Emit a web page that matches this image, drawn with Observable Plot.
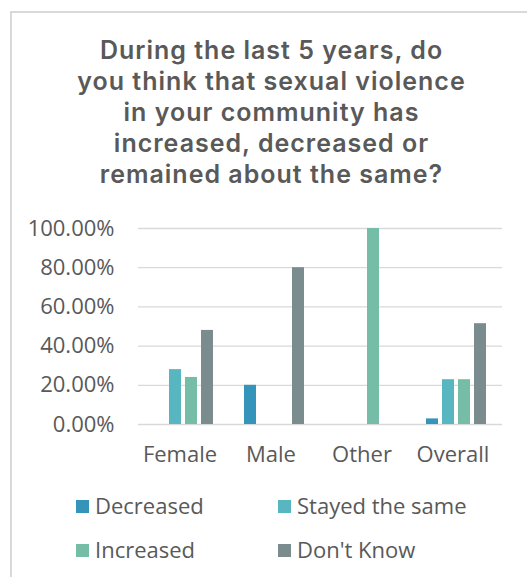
<!DOCTYPE html>
<html>
<head>
<meta charset="utf-8">
<script src="https://cdn.jsdelivr.net/npm/d3@7"></script>
<script src="https://cdn.jsdelivr.net/npm/@observablehq/plot@0.6"></script>
<style>
  html, body { margin: 0; padding: 0; background: #fff; }
  body { width: 527px; height: 577px; position: relative; overflow: hidden; font-family: "Open Sans", sans-serif; color: #595959; }
  #frame { position: absolute; left: 10px; top: 11px; width: 700px; height: 700px; border-left: 2px solid #d9d9d9; border-top: 2px solid #d9d9d9; }
  .tl { position: absolute; left: 11px; width: 521px; height: 31px; text-align: center; font-family: Inter, sans-serif; font-size: 25px; line-height: 31px; font-weight: 600; color: #595959; white-space: nowrap; letter-spacing: 1px; }
  #chart { position: absolute; left: 0; top: 200px; }
  .leg { position: absolute; font-size: 22px; color: #595959; white-space: nowrap; line-height: 30px; }
  .sw { position: absolute; width: 13px; height: 13px; }
</style>
</head>
<body>
<div id="frame"></div>
<div id="title"></div>
<div id="chart"></div>
<div id="legend"></div>
<script>
const titleLines = ["During the last 5 years, do", "you think that sexual violence", "in your community has", "increased, decreased or", "remained about the same?"];
const categories = ["Female", "Male", "Other", "Overall"];
const responses = ["Decreased", "Stayed the same", "Increased", "Don't Know"];
const colors = ["#3494BA", "#58B6C0", "#75BDA7", "#7A8C8E"];
const decreased = [0, 20, 0, 2.86];
const stayedSame = [28, 0, 0, 22.86];
const increased = [24, 0, 100, 22.86];
const dontKnow = [48, 80, 0, 51.43];
const yTicks = [0, 20, 40, 60, 80, 100];

const titleEl = document.getElementById("title");
titleLines.forEach((line, i) => {
  const d = document.createElement("div");
  d.className = "tl";
  d.style.top = (35 + i * 31) + "px";
  d.textContent = line;
  titleEl.appendChild(d);
});

const series = [decreased, stayedSame, increased, dontKnow];
const rows = [];
categories.forEach((c, i) => {
  responses.forEach((r, j) => {
    const v = series[j][i];
    if (v > 0) rows.push({category: c, response: r, value: v});
  });
});

const chart = Plot.plot({
  width: 527,
  height: 280,
  marginTop: 28,
  marginBottom: 56,
  marginLeft: 137,
  marginRight: 24,
  style: {fontFamily: "Open Sans, sans-serif", fontSize: "22px", color: "#595959", background: "transparent"},
  fx: {domain: categories, padding: 0, label: null},
  x: {domain: responses, paddingInner: 0.22, paddingOuter: 0.86, axis: null},
  y: {domain: [0, 100], label: null},
  color: {domain: responses, range: colors},
  marks: [
    Plot.ruleY(yTicks, {stroke: "#d9d9d9", strokeWidth: 1.3}),
    Plot.axisY(yTicks, {tickFormat: d => d.toFixed(2) + "%", tickSize: 0, tickPadding: 24, label: null}),
    Plot.axisFx({anchor: "bottom", tickSize: 0, tickPadding: 22, dx: -4, label: null}),
    Plot.barY(rows, {fx: "category", x: "response", y: "value", fill: "response"})
  ]
});
document.getElementById("chart").appendChild(chart);

// legend
const legend = document.getElementById("legend");
const legPos = [[76, 506], [278, 506], [76, 550], [278, 550]];
responses.forEach((r, i) => {
  const [x, y] = legPos[i];
  const sw = document.createElement("div");
  sw.className = "sw";
  sw.style.left = x + "px";
  sw.style.top = (y - 6.5) + "px";
  sw.style.background = colors[i];
  legend.appendChild(sw);
  const t = document.createElement("div");
  t.className = "leg";
  t.style.left = (x + 19) + "px";
  t.style.top = (y - 16) + "px";
  t.textContent = r;
  legend.appendChild(t);
});
</script>
</body>
</html>
